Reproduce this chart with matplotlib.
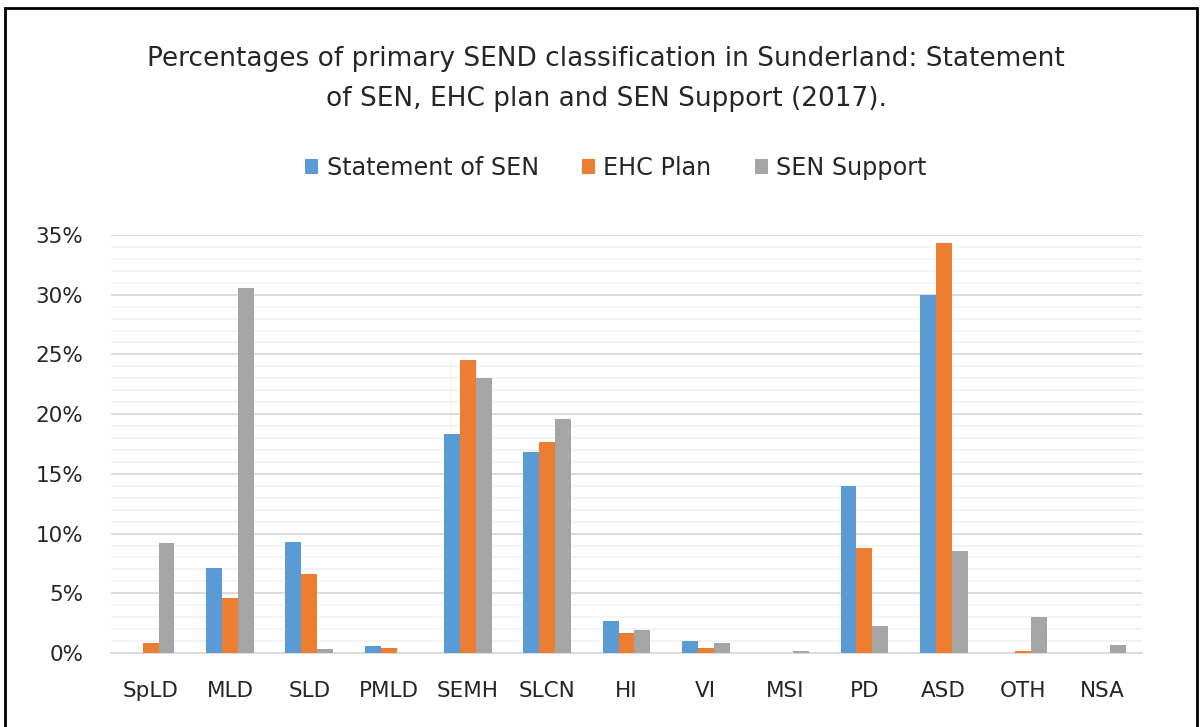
import numpy as np
import matplotlib
matplotlib.use('Agg')
import matplotlib.pyplot as plt
from matplotlib.ticker import MultipleLocator, FuncFormatter
from matplotlib.patches import Rectangle

categories = ['SpLD', 'MLD', 'SLD', 'PMLD', 'SEMH', 'SLCN', 'HI', 'VI', 'MSI', 'PD', 'ASD', 'OTH', 'NSA']
statement_sen = [0.0, 7.1, 9.3, 0.6, 18.3, 16.8, 2.7, 1.0, 0.0, 14.0, 30.0, 0.0, 0.0]
ehc_plan = [0.8, 4.6, 6.6, 0.4, 24.5, 17.7, 1.7, 0.4, 0.0, 8.8, 34.3, 0.15, 0.0]
sen_support = [9.2, 30.6, 0.3, 0.0, 23.0, 19.6, 1.9, 0.8, 0.15, 2.3, 8.5, 3.0, 0.7]
series_names = ['Statement of SEN', 'EHC Plan', 'SEN Support']
title = ('Percentages of primary SEND classification in Sunderland: Statement\n'
         'of SEN, EHC plan and SEN Support (2017).')

colors = ['#5B9BD5', '#ED7D31', '#A5A5A5']
W, H = 1203, 727

plt.rcParams['font.family'] = ['DejaVu Sans']
fig = plt.figure(figsize=(W / 100, H / 100), dpi=100)
ax = fig.add_axes([111 / W, (H - 653) / H, (1142 - 111) / W, (653 - 235) / H])

x = np.arange(len(categories))
bw = 0.2
for i, (vals, name) in enumerate(zip([statement_sen, ehc_plan, sen_support], series_names)):
    ax.bar(x + (i - 1) * bw, vals, width=bw, color=colors[i], label=name, zorder=3)

ax.set_xlim(-0.5, len(categories) - 0.5)
ax.set_ylim(0, 35)
ax.yaxis.set_major_locator(MultipleLocator(5))
ax.yaxis.set_minor_locator(MultipleLocator(1))
ax.yaxis.set_major_formatter(FuncFormatter(lambda v, p: f'{v:.0f}%'))
ax.grid(axis='y', which='major', color='#D9D9D9', linewidth=1.3, zorder=0)
ax.grid(axis='y', which='minor', color='#F2F2F2', linewidth=1.3, zorder=0)
ax.set_xticks(x)
ax.set_xticklabels(categories)
ax.tick_params(axis='both', which='both', length=0, labelsize=15.5, colors='#262626')
ax.tick_params(axis='x', pad=20)
ax.tick_params(axis='y', pad=20)
for s in ['top', 'right', 'left']:
    ax.spines[s].set_visible(False)
ax.spines['bottom'].set_color('#D9D9D9')
ax.spines['bottom'].set_linewidth(1.3)

fig.text(0.504, 1 - 79 / H, title, ha='center', va='center', fontsize=19,
         color='#262626', linespacing=1.7)
handles, labels = ax.get_legend_handles_labels()
fig.legend(handles, labels, loc='center', bbox_to_anchor=(0.512, 1 - 168 / H), ncol=3,
           frameon=False, fontsize=17.2, handlelength=0.55, handleheight=0.55,
           handletextpad=0.35, columnspacing=1.8, labelcolor='#262626')

fig.patches.append(Rectangle((5 / W, -0.05), (1197 - 5) / W, 1.05 - 8 / H,
                             transform=fig.transFigure, fill=False,
                             edgecolor='black', linewidth=2))

fig.savefig('out.png', dpi=100, facecolor='white')
